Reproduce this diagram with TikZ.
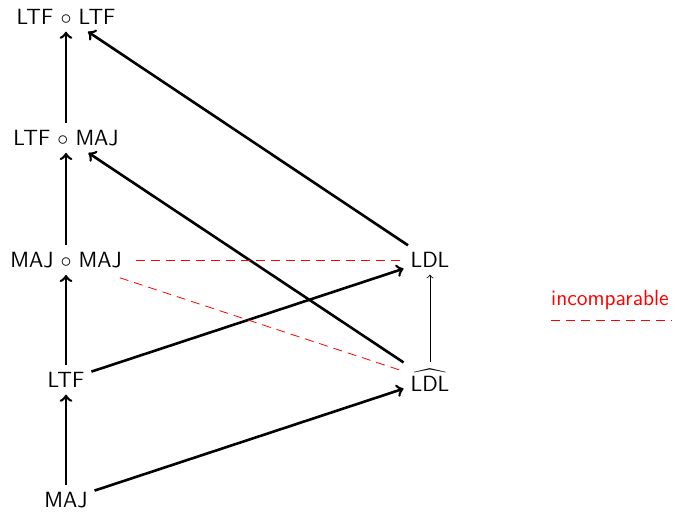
\documentclass[tikz,border=0pt]{standalone}
\usepackage{amsmath}
\begin{document}
\begin{tikzpicture}[x=0.5pt,y=-0.5pt,
  cls/.style={font=\fontsize{11}{13}\selectfont\sffamily, inner sep=3.33pt},
  incl/.style={->, line width=1.3pt},
  weak/.style={->, line width=0.4pt},
  incomp/.style={red, line width=0.4pt, dash pattern=on 4.5pt off 3pt}]
\useasboundingbox (0,0) rectangle (677,513);

% the classes
\node[cls] (ltfltf) at (66,17)  {LTF $\circ$ LTF};
\node[cls] (ltfmaj) at (66,138) {LTF $\circ$ MAJ};
\node[cls] (majmaj) at (66,260) {MAJ $\circ$ MAJ};
\node[cls] (ltf)    at (66,380) {LTF};
\node[cls] (maj)    at (66,500) {MAJ};
\node[cls] (ldl)    at (430,260) {LDL};
\node[cls] (ldlhat) at (430,380) {$\widehat{\text{LDL}}$};

% inclusions
\draw[incl] (maj) -- (ltf);
\draw[incl] (ltf) -- (majmaj);
\draw[incl] (majmaj) -- (ltfmaj);
\draw[incl] (ltfmaj) -- (ltfltf);
\draw[incl] (ldl) -- (ltfltf);
\draw[incl] (ldlhat) -- (ltfmaj);
\draw[incl] (ltf) -- (ldl);
\draw[incl] (maj) -- (ldlhat);
\draw[weak] (ldlhat) -- (ldl);

% incomparable pairs
\draw[incomp, shorten <=3.5pt] (majmaj) -- (ldl);
\draw[incomp, shorten <=4.5pt] (majmaj) -- (ldlhat);

% legend
\node[cls, text=red] (legend) at (610,300) {incomparable};
\coordinate (legl) at (551,320);
\coordinate (legr) at (672,320);
\draw[incomp] (legl) -- (legr);
\end{tikzpicture}
\end{document}
